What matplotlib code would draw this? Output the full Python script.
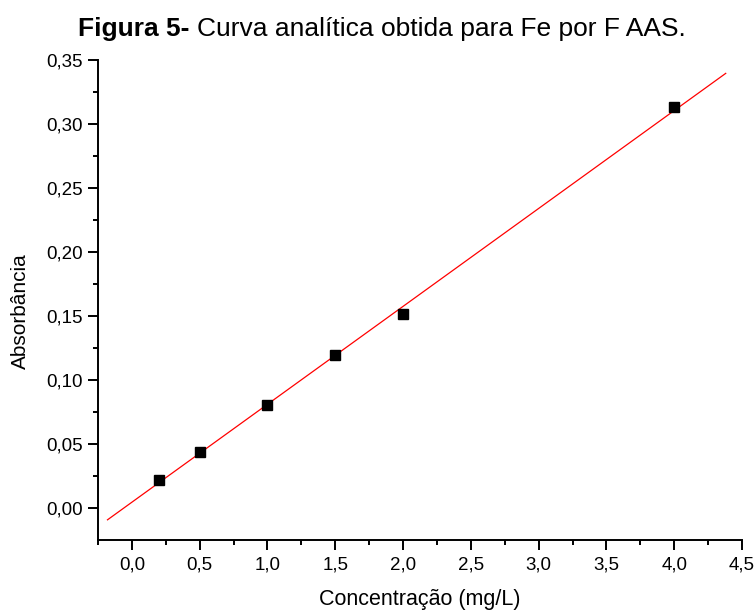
import numpy as np
import matplotlib
matplotlib.use('Agg')
import matplotlib.pyplot as plt
from matplotlib.ticker import MultipleLocator, FuncFormatter

plt.rcParams['font.family'] = ['Liberation Sans', 'DejaVu Sans']

# calibration points
concentracao = [0.2, 0.5, 1.0, 1.5, 2.0, 4.0]
absorbancia = [0.022, 0.044, 0.081, 0.120, 0.152, 0.313]

# linear fit, drawn over the same span as the original
slope, intercept = np.polyfit(concentracao, absorbancia, 1)
x_fit = np.array([-0.18, 4.38])
y_fit = slope * x_fit + intercept

fig = plt.figure(figsize=(7.56, 6.12), dpi=100)
ax = fig.add_axes([98/756, 1 - 540/612, (742 - 98)/756, (540 - 60)/612])

ax.plot(x_fit, y_fit, color='red', lw=0.9, zorder=2)
ax.plot(concentracao, absorbancia, 's', color='black', ms=6.8, zorder=3)

ax.set_xlim(-0.25, 4.5)
ax.set_ylim(-0.0247, 0.35)

ax.spines['top'].set_visible(False)
ax.spines['right'].set_visible(False)
for s in ['left', 'bottom']:
    ax.spines[s].set_linewidth(1.4)

ax.xaxis.set_major_locator(MultipleLocator(0.5))
ax.xaxis.set_minor_locator(MultipleLocator(0.25))
ax.yaxis.set_major_locator(MultipleLocator(0.05))
ax.yaxis.set_minor_locator(MultipleLocator(0.025))
ax.xaxis.set_major_formatter(FuncFormatter(lambda v, p: f'{v:.1f}'.replace('.', ',')))
ax.yaxis.set_major_formatter(FuncFormatter(lambda v, p: f'{v:.2f}'.replace('.', ',')))
ax.tick_params(which='major', direction='out', length=7, width=1.4, labelsize=13.5)
ax.tick_params(axis='x', which='major', pad=5)
ax.tick_params(axis='y', which='major', pad=4)
ax.tick_params(which='minor', direction='out', length=3.5, width=1.4)

ax.set_xlabel('Concentração (mg/L)', fontsize=15.5, va='center')
ax.xaxis.set_label_coords(0.5, -(600 - 540) / 480)
ax.set_ylabel('Absorbância', fontsize=15, va='center')
ax.yaxis.set_label_coords((20 - 98) / 644, (540 - 311.5) / 480)

# title: bold prefix followed by regular text
title_y = 1 - 36/612
t1 = fig.text(0, title_y, 'Figura 5- ', fontweight='bold', fontsize=19, va='baseline')
t2 = fig.text(0, title_y, 'Curva analítica obtida para Fe por F AAS.', fontsize=19, va='baseline')
fig.canvas.draw()
r = fig.canvas.get_renderer()
w1 = t1.get_window_extent(r).width
w2 = t2.get_window_extent(r).width
x0 = 381.5 - (w1 + w2) / 2
t1.set_x(x0 / 756)
t2.set_x((x0 + w1) / 756)

fig.savefig('out.png', dpi=100)
